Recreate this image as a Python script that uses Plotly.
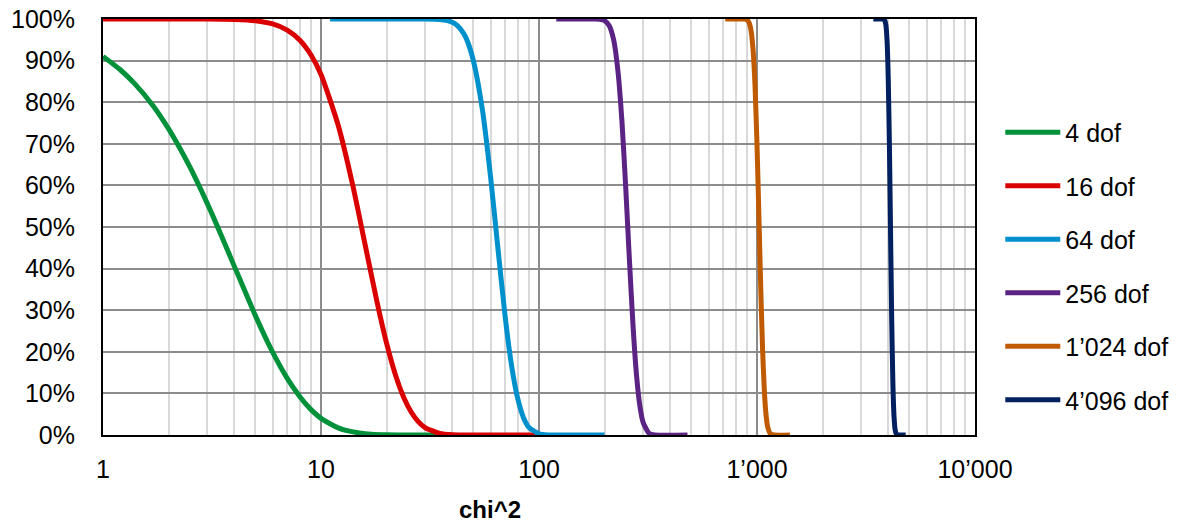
import plotly.graph_objects as go

# ---- data (x = chi^2, y = survival probability) ----
x_4 = [1, 1.2, 1.4, 1.7, 2, 2.2, 2.5, 3, 3.5, 4, 4.5, 5, 6, 7, 8, 9, 10, 11, 12, 13, 15, 17, 20, 25, 30, 40]
y_4 = [0.910, 0.878, 0.844, 0.791, 0.736, 0.699, 0.645, 0.558, 0.478, 0.406, 0.343, 0.287, 0.199, 0.136, 0.092,
       0.061, 0.040, 0.027, 0.017, 0.011, 0.005, 0.002, 0.0005, 0.0, 0.0, 0.0]

x_16 = [1, 2, 3, 4, 5, 6, 7, 8, 9, 10, 12, 14, 16, 18, 20, 22, 24, 26, 28, 30, 35, 40, 50, 100]
y_16 = [1.0, 1.0, 0.9999, 0.9989, 0.9958, 0.9881, 0.9733, 0.9489, 0.9134, 0.8666, 0.744, 0.599, 0.453, 0.324,
        0.220, 0.143, 0.0895, 0.054, 0.0316, 0.018, 0.004, 0.0008, 0.0, 0.0]

x_64 = [11, 20, 30, 35, 38, 40, 42, 45, 47, 50, 55, 60, 65, 70, 75, 80, 85, 90, 100, 110, 120, 200]
y_64 = [1.0, 1.0, 0.9999, 0.9988, 0.996, 0.992, 0.985, 0.966, 0.946, 0.900, 0.782, 0.619, 0.442, 0.283, 0.164,
        0.086, 0.041, 0.018, 0.003, 0.0003, 0.0, 0.0]

x_256 = [120, 180, 190, 195, 200, 210, 220, 230, 240, 250, 260, 270, 280, 290, 300, 320, 340, 480]
y_256 = [1.0, 1.0, 0.9993, 0.998, 0.996, 0.984, 0.950, 0.877, 0.756, 0.594, 0.419, 0.262, 0.145, 0.071, 0.031,
         0.004, 0.0003, 0.0]

x_1024 = [715, 880, 900, 920, 940, 960, 980, 1000, 1020, 1040, 1060, 1080, 1100, 1120, 1150, 1200, 1416]
y_1024 = [1.0, 0.9997, 0.998, 0.991, 0.971, 0.924, 0.835, 0.699, 0.529, 0.357, 0.211, 0.109, 0.049, 0.019,
          0.0035, 0.0, 0.0]

x_4096 = [3415, 3800, 3850, 3900, 3950, 4000, 4050, 4100, 4150, 4200, 4250, 4300, 4350, 4400, 4810]
y_4096 = [1.0, 0.9996, 0.997, 0.986, 0.948, 0.856, 0.693, 0.479, 0.274, 0.126, 0.046, 0.013, 0.003, 0.0005, 0.0]

series_names = ["4 dof", "16 dof", "64 dof", "256 dof", "1\u2019024 dof", "4\u2019096 dof"]
series_x = [x_4, x_16, x_64, x_256, x_1024, x_4096]
series_y = [y_4, y_16, y_64, y_256, y_1024, y_4096]
colors = ["#00913A", "#DA0000", "#0090CC", "#5B2383", "#C05A00", "#002060"]

x_tickvals = [1, 10, 100, 1000, 10000]
x_ticktext = ["1", "10", "100", "1\u2019000", "10\u2019000"]
y_tickvals = [i / 10 for i in range(11)]

FONT = "Arial, Liberation Sans, sans-serif"

fig = go.Figure()
for i, (name, xs, ys, c) in enumerate(zip(series_names, series_x, series_y, colors)):
    fig.add_trace(go.Scatter(
        x=xs, y=ys, name=name, mode="lines",
        line=dict(color=c, width=5, shape="spline", smoothing=0.6),
        legendgroup=f"g{i}",
    ))

minor_vals = [m * 10 ** d for d in range(4) for m in range(2, 10)]

fig.update_layout(
    width=1178, height=523,
    margin=dict(l=103, r=203, t=19, b=88, autoexpand=False),
    paper_bgcolor="white", plot_bgcolor="white",
    font=dict(family=FONT, size=25, color="#000000"),
    showlegend=True,
    legend=dict(x=1.029, y=0.406, xanchor="left", yanchor="middle",
                font=dict(size=25), tracegroupgap=18, itemwidth=55,
                bgcolor="rgba(0,0,0,0)"),
    xaxis=dict(
        type="log", range=[0, 4],
        tickmode="array", tickvals=x_tickvals, ticktext=x_ticktext,
        showgrid=True, gridcolor="#8C8C8C", gridwidth=2,
        minor=dict(tickmode="array", tickvals=minor_vals, showgrid=True,
                   gridcolor="#D9D9D9", gridwidth=2, ticks=""),
        showline=True, linecolor="#000000", linewidth=2, mirror=True,
        ticks="", ticklabelstandoff=11, zeroline=False,
    ),
    yaxis=dict(
        range=[0, 1], tickmode="array", tickvals=y_tickvals, tickformat=".0%",
        showgrid=True, gridcolor="#8C8C8C", gridwidth=2,
        showline=True, linecolor="#000000", linewidth=2, mirror=True,
        ticks="", ticklabelstandoff=21, zeroline=False,
    ),
    annotations=[dict(
        text="<b>chi^2</b>", xref="paper", yref="paper",
        x=0.444, y=-0.178, xanchor="center", yanchor="middle",
        showarrow=False, font=dict(family=FONT, size=24, color="#000000"),
    )],
)

fig.write_html("out.html", config={"displayModeBar": False})
